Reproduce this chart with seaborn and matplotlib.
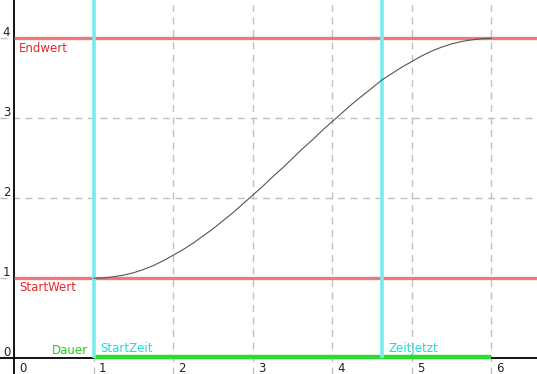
import numpy as np
import pandas as pd
import matplotlib
matplotlib.use("Agg")
import matplotlib.pyplot as plt
import seaborn as sns

# ---- data ----
start_time = 1.0      # StartZeit
now_time = 4.63       # ZeitJetzt
end_time = 6.0        # StartZeit + Dauer
start_value = 1.0     # StartWert
end_value = 4.0       # Endwert

curve_x = [1.0, 1.125, 1.25, 1.375, 1.5, 1.625, 1.75, 1.875, 2.0, 2.125,
           2.25, 2.375, 2.5, 2.625, 2.75, 2.875, 3.0, 3.125, 3.25, 3.375,
           3.5, 3.625, 3.75, 3.875, 4.0, 4.125, 4.25, 4.375, 4.5, 4.625,
           4.75, 4.875, 5.0, 5.125, 5.25, 5.375, 5.5, 5.625, 5.75, 5.875,
           6.0]
curve_y = [1.0, 1.005, 1.02, 1.04, 1.07, 1.11, 1.16, 1.22, 1.29, 1.36,
           1.44, 1.53, 1.62, 1.72, 1.82, 1.93, 2.04, 2.15, 2.27, 2.38,
           2.5, 2.62, 2.73, 2.85, 2.96, 3.07, 3.18, 3.28, 3.38, 3.48,
           3.56, 3.64, 3.71, 3.78, 3.84, 3.89, 3.93, 3.96, 3.98, 3.995,
           4.0]

x_ticks = [0, 1, 2, 3, 4, 5, 6]
y_ticks = [0, 1, 2, 3, 4]
x_tick_labels = ["0", "1", "2", "3", "4", "5", "6"]
y_tick_labels = ["0", "1", "2", "3", "4"]

sns.set_style("white")
plt.rcParams["font.family"] = ["DejaVu Sans"]

fig = plt.figure(figsize=(5.37, 3.74), dpi=100)
ax = fig.add_axes([0, 0, 1, 1])
xmin, xmax = -0.18, 6.575
ymin, ymax = -0.196, 4.479
ax.set_xlim(xmin, xmax)
ax.set_ylim(ymin, ymax)

# grid
for xv in x_ticks[1:]:
    ax.axvline(xv, color="#c0c0c0", lw=1, dashes=(5, 4), zorder=1)
for yv in y_ticks[1:]:
    ax.axhline(yv, color="#c0c0c0", lw=1, dashes=(5, 4), zorder=1)

# axes lines
ax.axhline(0, color="black", lw=1.3, zorder=2)
ax.axvline(0, color="black", lw=1.3, zorder=2)
for s in ax.spines.values():
    s.set_visible(False)
ax.set_xticks([])
ax.set_yticks([])

# red value lines (from the y axis to the right edge)
red = "#ee6e6e"
ax.hlines([start_value, end_value], 0, xmax, colors=red, lw=2.4,
          alpha=0.9, zorder=3)

# green duration line
ax.plot([start_time, end_time], [0.02, 0.02], color="#2ddd2d", lw=3.2,
        solid_capstyle="butt", zorder=4)

# cyan time lines (from the x axis to the top)
cyan = "#78ecec"
ax.vlines([start_time, now_time], 0, ymax, colors=cyan, lw=2.6, zorder=5)

# curve
df = pd.DataFrame({"x": curve_x, "y": curve_y})
sns.lineplot(data=df, x="x", y="y", ax=ax, color="#555555", lw=0.8,
             zorder=6, sort=True)
ax.set_xlabel("")
ax.set_ylabel("")

fs = 8.5
px = 72 / 100.0  # points per pixel

# tick labels
for xv, lab in zip(x_ticks, x_tick_labels):
    ax.annotate(lab, (xv, 0), xytext=(5 * px, -10 * px),
                textcoords="offset points", ha="left", va="center",
                fontsize=fs, color="#222222")
for yv, lab in zip(y_ticks, y_tick_labels):
    ax.annotate(lab, (0, yv), xytext=(-4 * px, 6 * px),
                textcoords="offset points", ha="right", va="center",
                fontsize=fs, color="#222222")

# labels
txt_red = "#e02a2a"
ax.annotate("Endwert", (0, end_value), xytext=(5 * px, -10.5 * px),
            textcoords="offset points", ha="left", va="center",
            fontsize=fs, color=txt_red)
ax.annotate("StartWert", (0, start_value), xytext=(5 * px, -9 * px),
            textcoords="offset points", ha="left", va="center",
            fontsize=fs, color=txt_red)
ax.annotate("Dauer", (start_time, 0), xytext=(-6 * px, 8 * px),
            textcoords="offset points", ha="right", va="center",
            fontsize=fs, color="#22cc22")
ax.annotate("StartZeit", (start_time, 0), xytext=(6 * px, 10 * px),
            textcoords="offset points", ha="left", va="center",
            fontsize=fs, color="#22d8d8")
ax.annotate("ZeitJetzt", (now_time, 0), xytext=(6.5 * px, 10 * px),
            textcoords="offset points", ha="left", va="center",
            fontsize=fs, color="#22d8d8")

fig.savefig("out.png", dpi=100)
